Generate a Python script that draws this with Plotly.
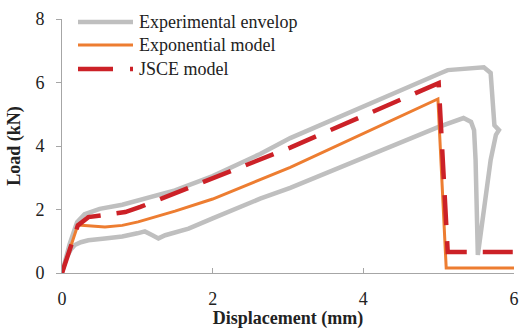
import plotly.graph_objects as go

# Experimental envelope traced as one closed loop (lower branch out, upper branch back)
exp_disp = [0, 0.05, 0.12, 0.17, 0.25, 0.35, 0.57, 0.8, 1.0, 1.1, 1.2, 1.28, 1.37, 1.68,
            2.0, 2.63, 3.03, 4.0, 4.63, 5.0, 5.33, 5.43, 5.47, 5.49, 5.52, 5.6, 5.69,
            5.76, 5.8, 5.74, 5.71, 5.69, 5.6, 5.35, 5.12, 5.03, 4.5, 4.0, 3.03, 2.63,
            2.0, 1.5, 1.04, 0.8, 0.5, 0.3, 0.2, 0.1, 0]
exp_load = [0, 0.45, 0.75, 0.88, 0.97, 1.03, 1.09, 1.15, 1.25, 1.31, 1.19, 1.09, 1.19, 1.4,
            1.72, 2.34, 2.68, 3.62, 4.22, 4.6, 4.88, 4.76, 4.5, 3.56, 0.57, 1.9, 3.56,
            4.35, 4.5, 4.65, 5.5, 6.3, 6.48, 6.45, 6.39, 6.3, 5.76, 5.25, 4.25, 3.75,
            3.05, 2.6, 2.32, 2.15, 2.02, 1.85, 1.6, 0.9, 0]

# Exponential model
expo_disp = [0, 0.1, 0.21, 0.3, 0.57, 0.8, 1.01, 1.5, 2.0, 3.03, 4.0, 4.99, 5.1, 6.0]
expo_load = [0, 0.75, 1.51, 1.5, 1.45, 1.5, 1.61, 1.95, 2.33, 3.33, 4.4, 5.48, 0.16, 0.16]

# JSCE model
jsce_disp = [0, 0.1, 0.21, 0.35, 0.57, 0.84, 1.04, 2.0, 3.03, 4.0, 5.0, 5.12, 6.0]
jsce_load = [0, 0.72, 1.5, 1.76, 1.83, 1.92, 2.08, 2.98, 3.95, 4.95, 5.98, 0.66, 0.66]

legend_names = ["Experimental envelop", "Exponential model", "JSCE model"]

GRAY = "#BFBFBF"
ORANGE = "#ED7D31"
RED = "#CC2127"
SERIF = "Liberation Serif, Times New Roman, serif"

fig = go.Figure()
fig.add_trace(go.Scatter(x=exp_disp, y=exp_load, mode="lines",
                         line=dict(color=GRAY, width=4.5), name=legend_names[0]))
fig.add_trace(go.Scatter(x=expo_disp, y=expo_load, mode="lines",
                         line=dict(color=ORANGE, width=3), name=legend_names[1]))
fig.add_trace(go.Scatter(x=jsce_disp, y=jsce_load, mode="lines",
                         line=dict(color=RED, width=4.5, dash="30px,16px"),
                         name=legend_names[2]))

# Hand-built legend in the upper-left corner of the plot area
W, H = 452.0, 254.0
styles = [dict(color=GRAY, width=4.5), dict(color=ORANGE, width=3),
          dict(color=RED, width=4.5, dash="35px,17px")]
rows_px = [3, 26, 50]   # offsets below the top of the plot area
for name, st, dy in zip(legend_names, styles, rows_px):
    yp = 1 - dy / H
    fig.add_shape(type="line", xref="paper", yref="paper",
                  x0=16 / W, x1=71 / W, y0=yp, y1=yp, line=st)
    fig.add_annotation(xref="paper", yref="paper", x=75 / W, y=yp,
                       xanchor="left", yanchor="middle", showarrow=False,
                       text=name, font=dict(family=SERIF, size=18, color="#222"))

fig.update_layout(
    width=519, height=329,
    margin=dict(l=62, r=5, t=19, b=56),
    paper_bgcolor="white", plot_bgcolor="white",
    showlegend=False,
    font=dict(family=SERIF, size=18, color="#222"),
)
fig.update_xaxes(range=[0, 6], tickvals=[0, 2, 4, 6], showgrid=False, zeroline=False,
                 showline=True, linecolor="#A6A6A6", linewidth=1, automargin=False,
                 ticks="inside", ticklen=5, tickcolor="#A6A6A6",
                 ticklabelstandoff=9,
                 tickfont=dict(family=SERIF, size=18),
                 title=dict(text="<b>Displacement (mm)</b>", standoff=6,
                            font=dict(family=SERIF, size=18)))
fig.update_yaxes(range=[0, 8], tickvals=[0, 2, 4, 6, 8], showgrid=False, zeroline=False,
                 showline=True, linecolor="#A6A6A6", linewidth=1, automargin=False,
                 ticks="outside", ticklen=5, tickcolor="#A6A6A6",
                 ticklabelstandoff=8,
                 tickfont=dict(family=SERIF, size=18),
                 title=dict(text="<b>Load (kN)</b>", standoff=10,
                            font=dict(family=SERIF, size=18)))

fig.write_html("out.html")
